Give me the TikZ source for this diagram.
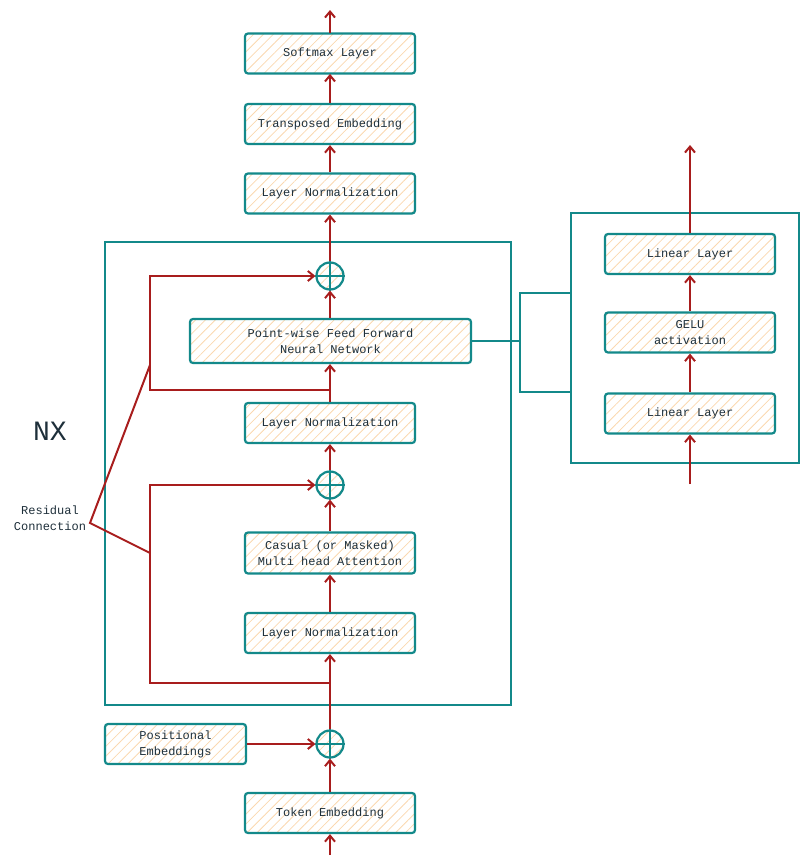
\documentclass[tikz,border=0pt]{standalone}
\usepackage{fontspec}
\setmonofont{Liberation Mono}
\usetikzlibrary{arrows.meta,patterns.meta}
\definecolor{tealc}{HTML}{13898A}
\definecolor{redc}{HTML}{A81D1D}
\definecolor{hatchc}{HTML}{FAD8B0}
\definecolor{txtc}{HTML}{1E2F3A}
\begin{document}
\begin{tikzpicture}[x=1pt,y=-1pt,
  blk/.style={draw=tealc, line width=2.2pt, rounded corners=3pt,
    pattern={Lines[angle=45,distance=7pt,line width=0.8pt]}, pattern color=hatchc,
    font=\ttfamily\fontsize{12}{16}\selectfont, text=txtc, align=center,
    inner sep=0pt, minimum width=170pt, minimum height=40pt},
  plus/.style={circle, draw=tealc, line width=2.2pt, minimum size=27pt, inner sep=0pt,
    pattern={Lines[angle=45,distance=7pt,line width=0.8pt]}, pattern color=hatchc},
  tline/.style={draw=tealc, line width=2pt},
  rline/.style={draw=redc, line width=2pt},
  arr/.style={rline, -{Straight Barb[length=6pt,width=10pt]}},
  lbl/.style={font=\ttfamily\fontsize{12}{16}\selectfont, text=txtc, align=center}
]
\useasboundingbox (0,0) rectangle (802,862);

% containers
\draw[tline] (105,242) rectangle (511,705);
\draw[tline] (571,213) rectangle (799,463);

% main column
\node[blk] (soft) at (330,53.5) {Softmax Layer};
\node[blk] (trans) at (330,124) {Transposed Embedding};
\node[blk] (ln1) at (330,193.5) {Layer Normalization};
\node[plus] (p1) at (330,276) {};
\node[blk, minimum width=281pt, minimum height=44pt] (ffn) at (330.5,341) {Point-wise Feed Forward\\Neural Network};
\node[blk] (ln2) at (330,423) {Layer Normalization};
\node[plus] (p2) at (330,485) {};
\node[blk, minimum height=41pt] (att) at (330,553) {Casual (or Masked)\\Multi head Attention};
\node[blk] (ln3) at (330,633) {Layer Normalization};
\node[plus] (p3) at (330,744) {};
\node[blk, minimum width=141pt] (pos) at (175.5,744) {Positional\\Embeddings};
\node[blk] (tok) at (330,813) {Token Embedding};

% plus signs
\foreach \p in {p1,p2,p3}{
  \draw[tline] (\p.north) -- (\p.south);
  \draw[tline] (\p.west) -- (\p.east);
}

% side panel
\node[blk] (lla) at (690,254) {Linear Layer};
\node[blk] (gelu) at (690,332.5) {GELU\\activation};
\node[blk] (llb) at (690,413.5) {Linear Layer};

% labels
\node[font=\ttfamily\fontsize{28}{30}\selectfont, text=txtc] (nx) at (50,431) {NX};
\node[lbl] (res) at (50,518) {Residual\\Connection};

% coordinates
\coordinate (in) at (330,855);
\coordinate (out) at (330,10);
\coordinate (inb) at (690,484);
\coordinate (outb) at (690,145);
\coordinate (r1s) at (330,390);
\coordinate (r1c) at (150,390);
\coordinate (r2s) at (330,683);
\coordinate (r2c) at (150,683);
\coordinate (rs) at (90,523);
\coordinate (ra) at (150,365);
\coordinate (rb) at (150,553);
\coordinate (bt) at (520,293);
\coordinate (bb) at (520,392);
\coordinate (btr) at (571,293);
\coordinate (bbr) at (571,392);

% main arrows
\draw[arr] (in) -- (tok.south);
\draw[arr] (tok.north) -- (p3.south);
\draw[arr] (pos.east) -- (p3.west);
\draw[arr] (p3.north) -- (ln3.south);
\draw[arr] (ln3.north) -- (att.south);
\draw[arr] (att.north) -- (p2.south);
\draw[arr] (p2.north) -- (ln2.south);
\draw[arr] (ln2.north) -- (ffn.south -| ln2.north);
\draw[arr] (ffn.north -| p1.south) -- (p1.south);
\draw[arr] (p1.north) -- (ln1.south);
\draw[arr] (ln1.north) -- (trans.south);
\draw[arr] (trans.north) -- (soft.south);
\draw[arr] (soft.north) -- (out);

% residual loops
\draw[arr] (r2s) -- (r2c) |- (p2.west);
\draw[arr] (r1s) -- (r1c) |- (p1.west);
\draw[rline] (ra) -- (rs) -- (rb);

% side panel arrows
\draw[arr] (inb) -- (llb.south);
\draw[arr] (llb.north) -- (gelu.south);
\draw[arr] (gelu.north) -- (lla.south);
\draw[arr] (lla.north) -- (outb);

% bracket
\draw[tline] (ffn.east) -- (ffn.east -| bt);
\draw[tline] (btr) -- (bt) -- (bb) -- (bbr);
\end{tikzpicture}
\end{document}
